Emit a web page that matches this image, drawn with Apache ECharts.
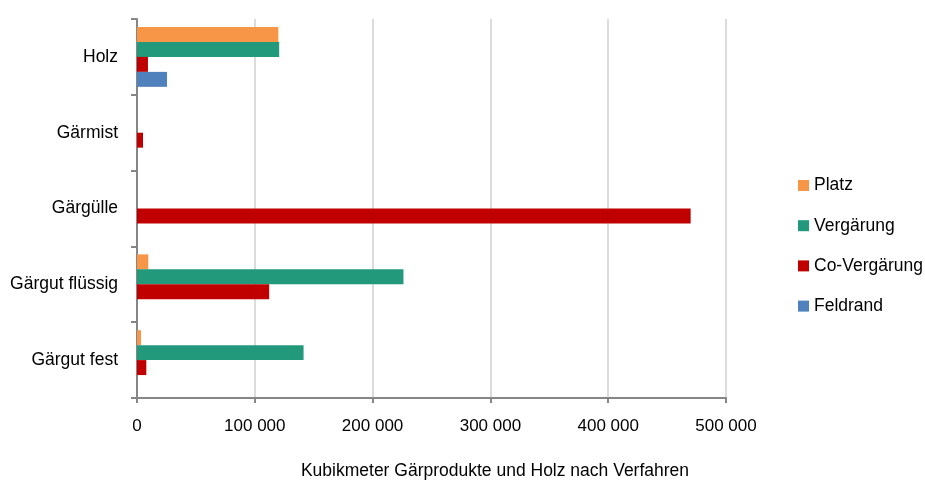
<!DOCTYPE html>
<html>
<head>
<meta charset="utf-8">
<script src="https://cdn.jsdelivr.net/npm/echarts@6/dist/echarts.min.js"></script>
<style>
  html, body { margin: 0; padding: 0; background: #fff; }
  #chart { width: 925px; height: 483px; }
</style>
</head>
<body>
<div id="chart"></div>
<script>
// Categories, bottom to top along the value axis
const categories = ['Gärgut fest', 'Gärgut flüssig', 'Gärgülle', 'Gärmist', 'Holz'];

// Cubic metres per process (null = no amount)
const platz        = [3400, 9600, null, null, 120000];
const vergaerung   = [141400, 226200, null, null, 120700];
const coVergaerung = [7900, 112200, 470000, 5100, 9300];
const feldrand     = [null, null, null, null, 25500];

const xTicks = [0, 100000, 200000, 300000, 400000, 500000];

const FONT = '"Liberation Sans", Arial, sans-serif';
const FS = 17.5;
const fmt = v => String(v).replace(/\B(?=(\d{3})+(?!\d))/g, ' ');

const seriesDefs = [
  { name: 'Platz', data: platz, color: '#F79646' },
  { name: 'Vergärung', data: vergaerung, color: '#21997A' },
  { name: 'Co-Vergärung', data: coVergaerung, color: '#C00000' },
  { name: 'Feldrand', data: feldrand, color: '#4F81BD' }
];

const chart = echarts.init(document.getElementById('chart'), null, { renderer: 'canvas' });
chart.setOption({
  animation: false,
  backgroundColor: '#fff',
  textStyle: { fontFamily: FONT },
  grid: { left: 137, right: 199, top: 19, bottom: 85, containLabel: false, outerBoundsMode: 'none' },
  title: {
    text: 'Kubikmeter Gärprodukte und Holz nach Verfahren',
    left: 495, top: 462, textAlign: 'center', padding: 0,
    textStyle: { fontFamily: FONT, fontSize: FS, fontWeight: 'normal', color: '#000' }
  },
  legend: {
    orient: 'vertical',
    left: 798, top: 175.5, padding: 0,
    itemWidth: 11, itemHeight: 11, itemGap: 20.2,
    icon: 'rect',
    data: seriesDefs.map(s => s.name),
    textStyle: { fontFamily: FONT, fontSize: FS, lineHeight: 20, color: '#000', padding: [0, 0, 0, 0] }
  },
  xAxis: {
    type: 'value',
    min: xTicks[0], max: xTicks[xTicks.length - 1], interval: 100000,
    axisLine: { show: true, lineStyle: { color: '#868686', width: 2 } },
    axisTick: { show: true, length: 5, lineStyle: { color: '#868686', width: 2 } },
    axisLabel: { formatter: fmt, fontFamily: FONT, fontSize: 17, color: '#000', margin: 20 },
    splitLine: { show: true, lineStyle: { color: '#D0D0D0', width: 1.5 } }
  },
  yAxis: {
    type: 'category',
    data: categories,
    axisLine: { show: true, lineStyle: { color: '#868686', width: 2 } },
    axisTick: { show: true, length: 6, lineStyle: { color: '#868686', width: 2 } },
    axisLabel: { fontFamily: FONT, fontSize: FS, color: '#000', margin: 19, padding: [2, 0, 0, 0] },
    splitLine: { show: false }
  },
  series: seriesDefs.map(s => ({
    name: s.name,
    type: 'bar',
    data: s.data,
    itemStyle: { color: s.color },
    barGap: '0%',
    barCategoryGap: '21%'
  }))
});
</script>
</body>
</html>
